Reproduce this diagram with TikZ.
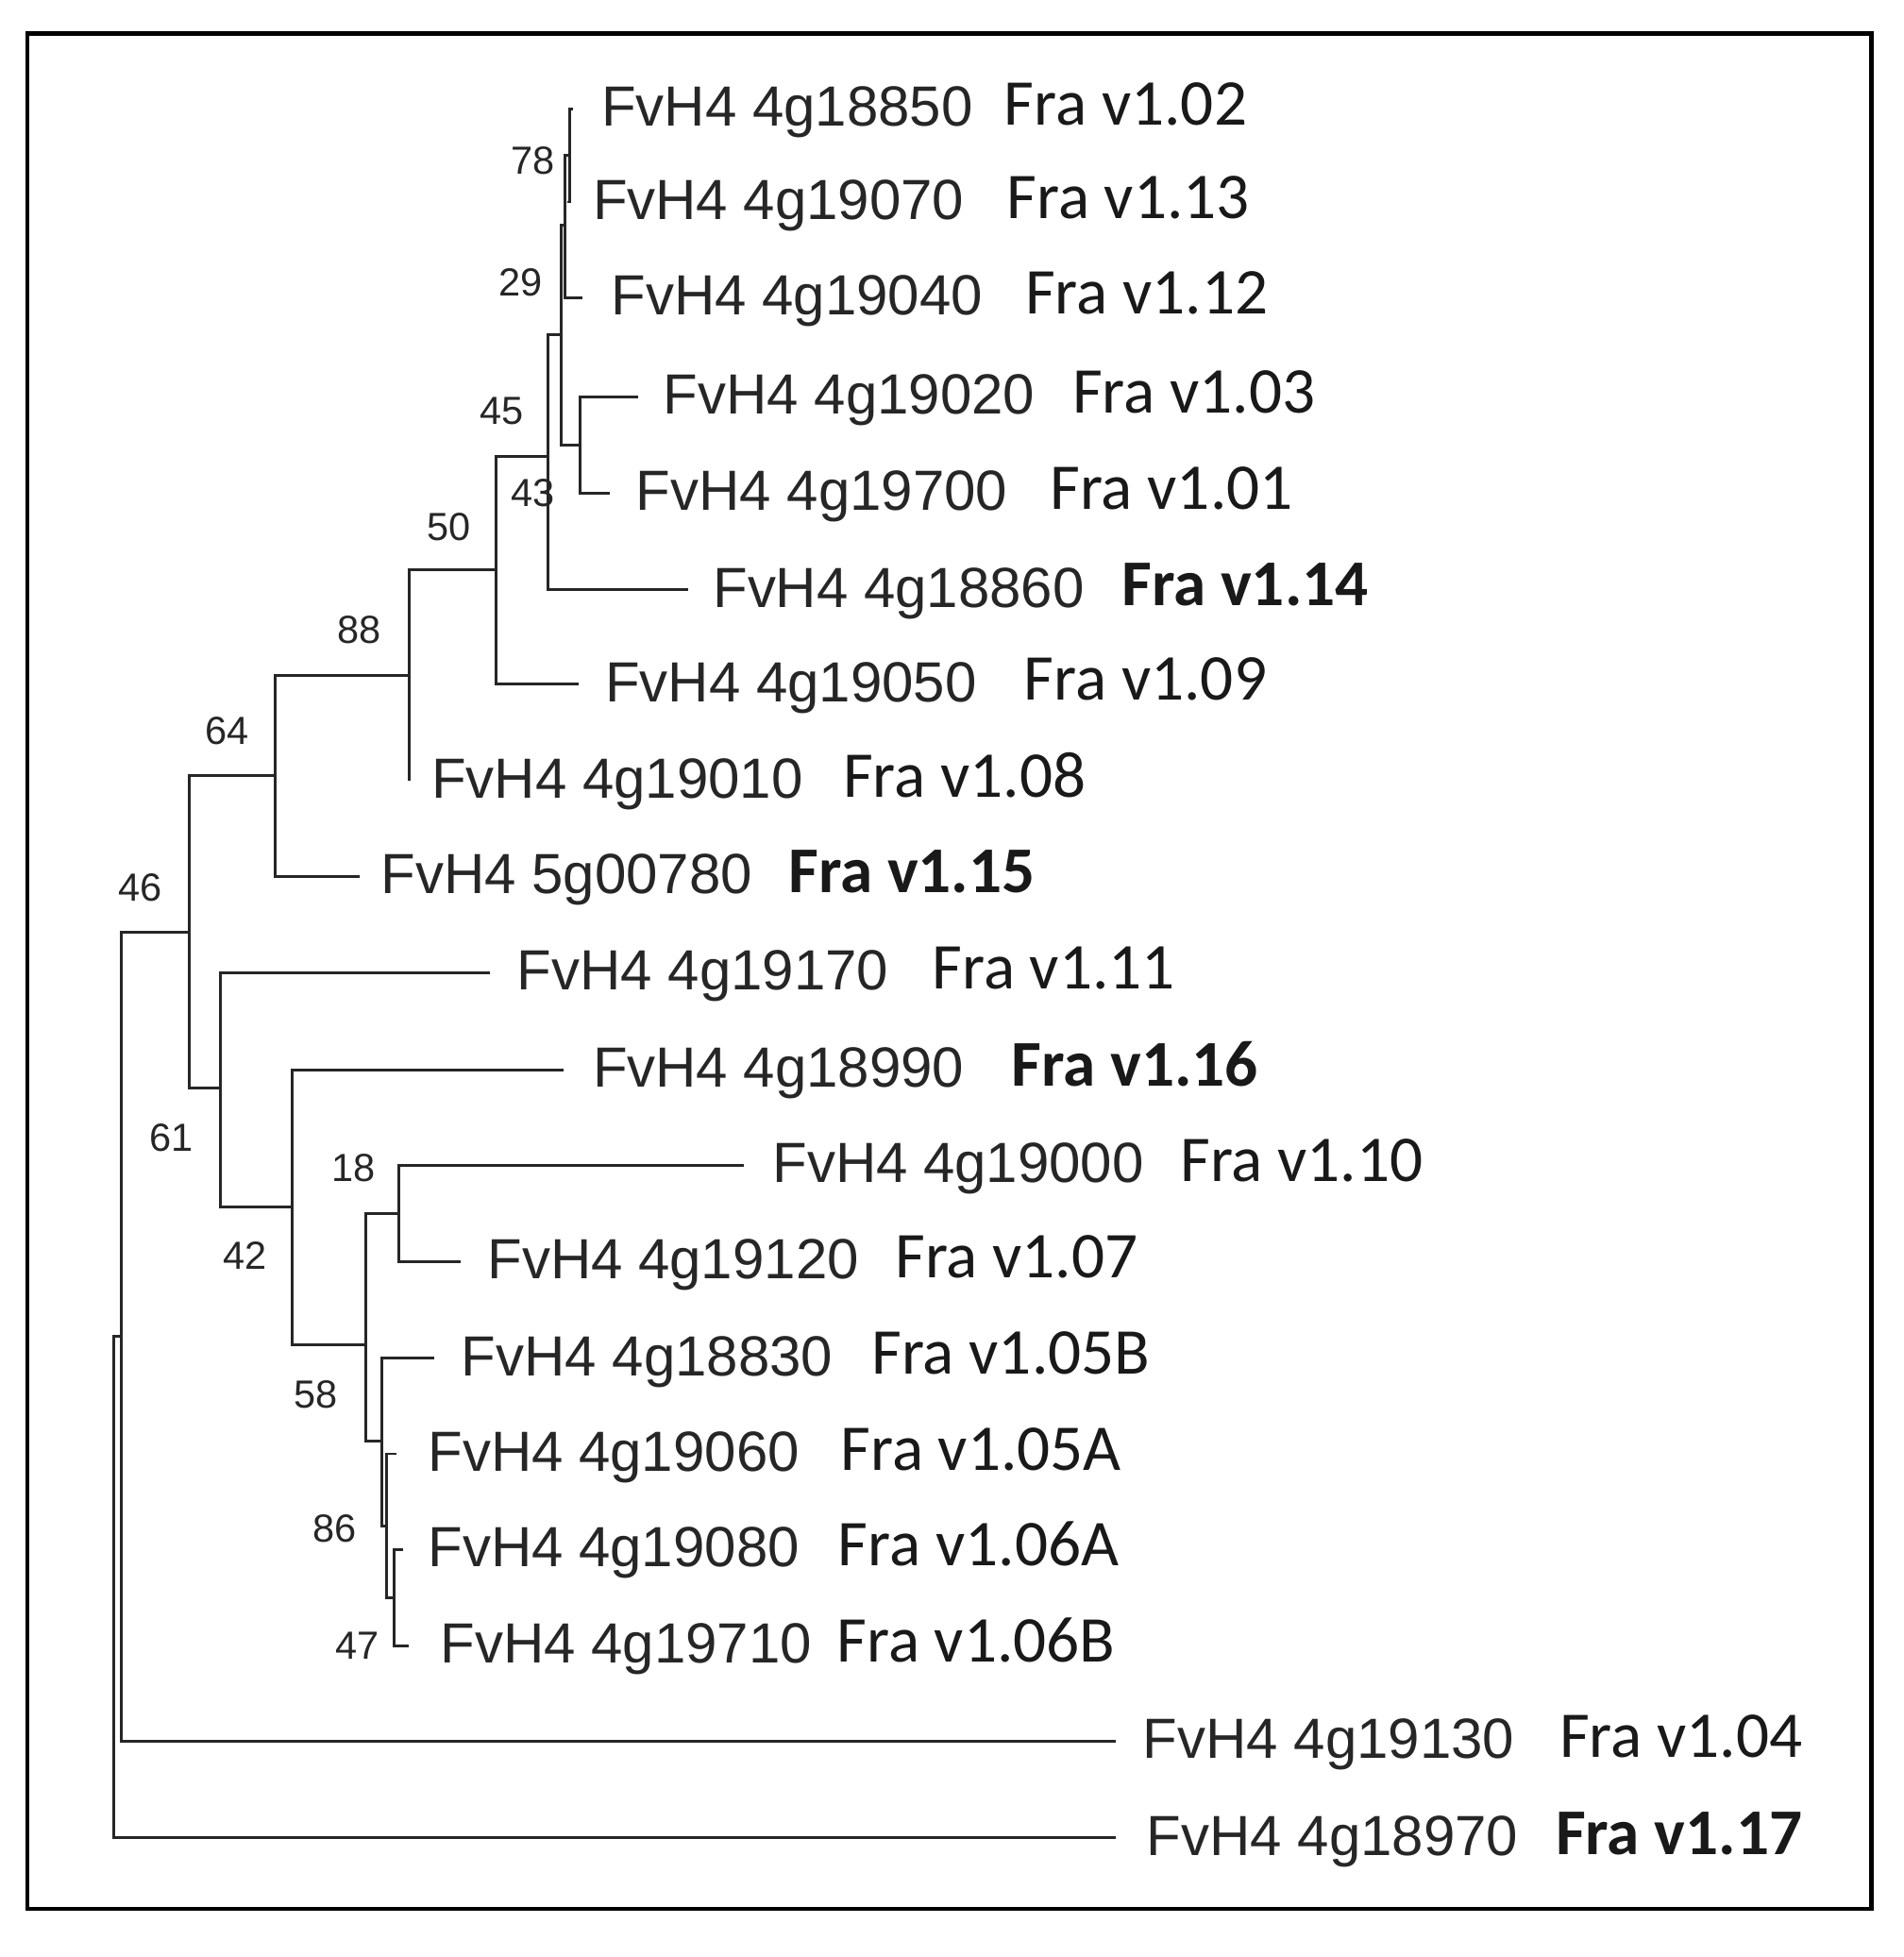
\documentclass[tikz,border=0pt]{standalone}
\usepackage{fontspec}
\setmainfont{Liberation Sans}
\newfontfamily\fra{Carlito}
\begin{document}
\begin{tikzpicture}[x=0.02cm,y=-0.02cm,
  br/.style={line width=1.3pt,black!85},
  gene/.style={anchor=base west,inner sep=0,font=\fontsize{26}{28}\selectfont,text=black!85},
  tag/.style={anchor=base west,inner sep=0,font=\fra\fontsize{30}{32}\selectfont,text=black!90},
  btag/.style={tag,font=\fra\bfseries\fontsize{30}{32}\selectfont},
  bs/.style={inner sep=0,font=\fontsize{18}{20}\selectfont,text=black!85}]
\useasboundingbox (0,0) rectangle (1536,1579);
\draw[line width=1.8pt] (22,27) rectangle (1510,1540);
% leaves
\foreach \n/\x/\y/\gx/\gt/\tx/\tt/\b in {
 1/462/88/485/4g18850/810/1.02/0, 2/458/163/478/4g19070/812/1.13/0,
 3/470/240/493/4g19040/827/1.12/0, 4/515/320/535/4g19020/865/1.03/0,
 5/492/398/513/4g19700/847/1.01/0, 6/555/476/575/4g18860/905/1.14/1,
 7/467/552/488/4g19050/826/1.09/0, 8/330/630/348/4g19010/680/1.08/0,
 9/290/707/307/5g00780/636/1.15/1, 10/395/785/417/4g19170/752/1.11/0,
 11/455/863/478/4g18990/816/1.16/1, 12/600/940/623/4g19000/952/1.10/0,
 13/372/1018/393/4g19120/722/1.07/0, 14/350/1096/372/4g18830/703/1.05B/0,
 15/320/1173/345/4g19060/678/1.05A/0, 16/325/1250/345/4g19080/676/1.06A/0,
 17/330/1328/355/4g19710/675/1.06B/0, 18/900/1405/922/4g19130/1258/1.04/0,
 19/900/1483/925/4g18970/1255/1.17/1}{
  \coordinate (L\n) at (\x,\y);
  \node[gene] (g\n) at (\gx,\y+14) {FvH4 \gt};
  \ifnum\b=1 \node[btag] (t\n) at (\tx,\y+13) {Fra v\tt};
  \else \node[tag] (t\n) at (\tx,\y+13) {Fra v\tt};\fi
}
% internal nodes (x, y-mid)
\coordinate (A) at (460,125);
\coordinate (B) at (456,182);
\coordinate (C) at (468,359);
\coordinate (D) at (453,270);
\coordinate (E) at (442,368);
\coordinate (F) at (400,460);
\coordinate (G) at (330,545);
\coordinate (H) at (222,626);
\coordinate (I) at (318,1289);
\coordinate (J) at (312,1231);
\coordinate (K) at (308,1163);
\coordinate (Lq) at (322,979);
\coordinate (M) at (295,1085);
\coordinate (N) at (236,974);
\coordinate (O) at (178,878);
\coordinate (P) at (153,752);
\coordinate (Q) at (98,1078);
\coordinate (R) at (92,1280);
\newcommand{\join}[3]{\draw[br] (#2) -| (#1) |- (#3);}
\join{A}{L1}{L2}
\join{B}{A}{L3}
\join{C}{L4}{L5}
\join{D}{B}{C}
\join{E}{D}{L6}
\join{F}{E}{L7}
\join{G}{F}{L8}
\join{H}{G}{L9}
\join{I}{L16}{L17}
\join{J}{L15}{I}
\join{K}{L14}{J}
\join{Lq}{L12}{L13}
\join{M}{Lq}{K}
\join{N}{L11}{M}
\join{O}{L10}{N}
\join{P}{H}{O}
\join{Q}{P}{L18}
\join{R}{Q}{L19}
% bootstrap labels
\node[bs] (b1) at (430,130) {78};
\node[bs] (b2) at (420,228) {29};
\node[bs] (b3) at (405,332) {45};
\node[bs] (b4) at (430,398) {43};
\node[bs] (b5) at (362,425) {50};
\node[bs] (b6) at (290,508) {88};
\node[bs] (b7) at (183,590) {64};
\node[bs] (b8) at (113,716) {46};
\node[bs] (b9) at (138,918) {61};
\node[bs] (b10) at (285,942) {18};
\node[bs] (b11) at (198,1013) {42};
\node[bs] (b12) at (255,1125) {58};
\node[bs] (b13) at (270,1233) {86};
\node[bs] (b14) at (288,1328) {47};
\end{tikzpicture}
\end{document}
